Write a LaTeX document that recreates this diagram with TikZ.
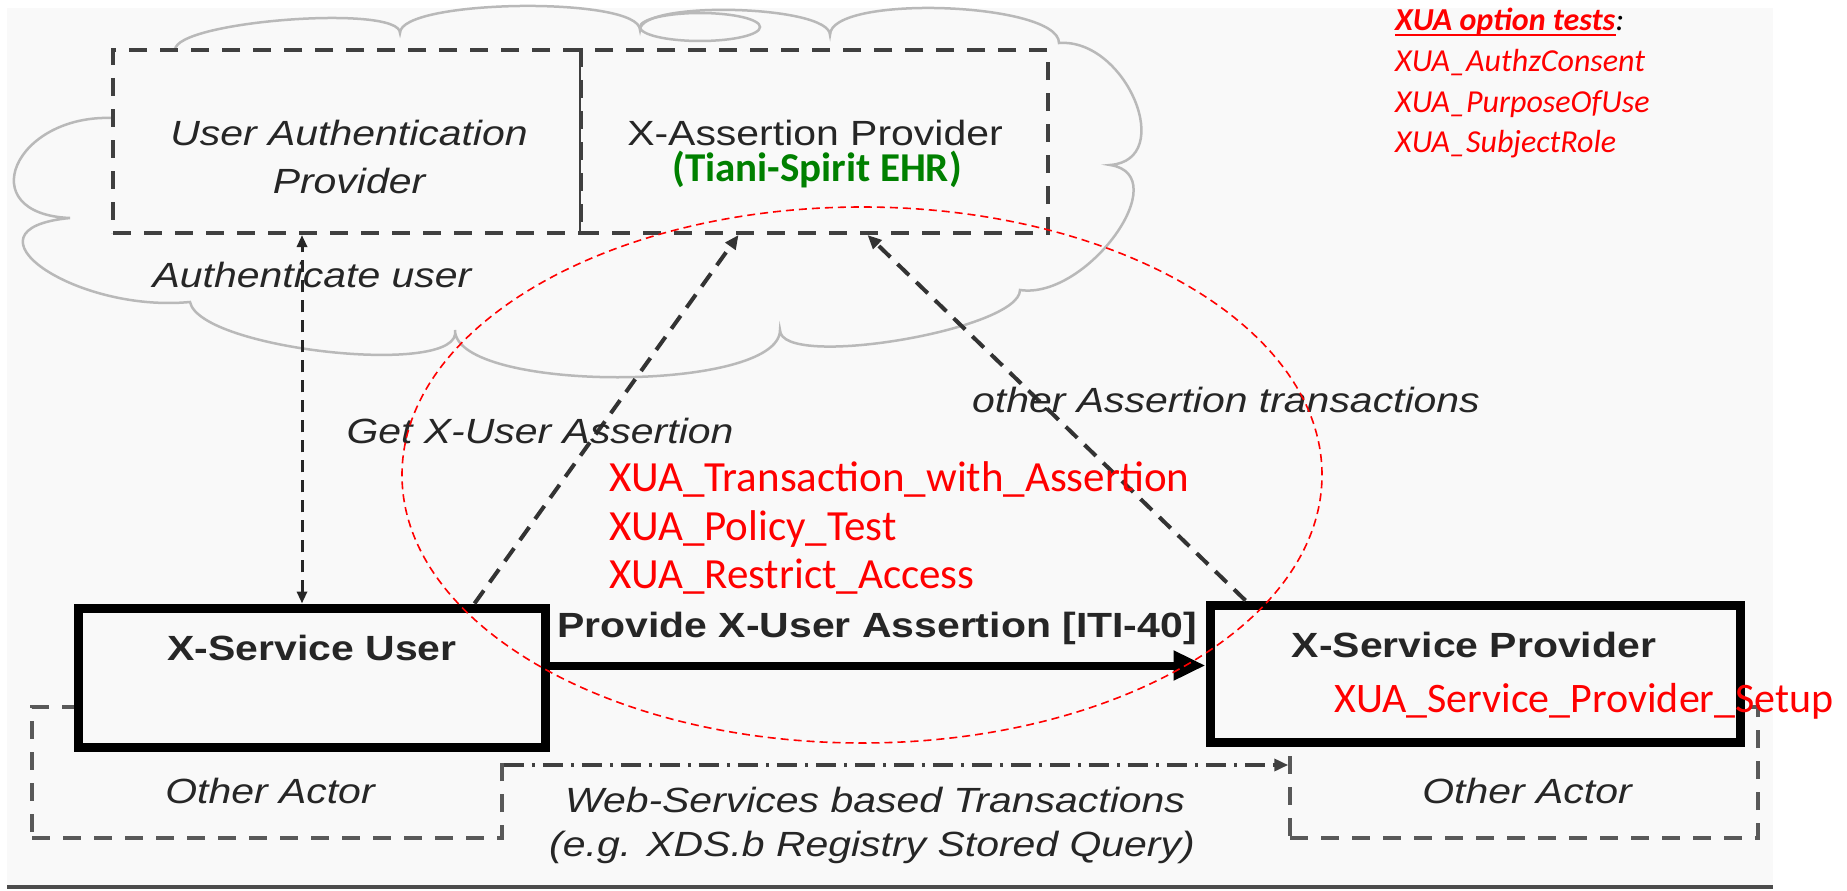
\documentclass[tikz,border=0pt]{standalone}
\usepackage{fontspec}
\setmainfont{Liberation Sans}[FakeStretch = 1.17]
\newfontfamily\calfont{Carlito}
\usepackage{xcolor}
\usetikzlibrary{shapes.geometric,arrows.meta}

\definecolor{panel}{RGB}{249,249,249}
\definecolor{cloudgray}{RGB}{185,185,185}
\definecolor{inkgray}{RGB}{38,38,38}
\definecolor{ehrgreen}{RGB}{0,128,0}

\begin{document}
\begin{tikzpicture}[x = 1pt, y = -1pt,
  dbox/.style = {draw = black!75, line width = 4pt, dash pattern = on 18pt off 13pt, fill = panel, inner sep = 0pt},
  actor/.style = {draw = black!65, line width = 3.5pt, dash pattern = on 18pt off 13pt, inner sep = 0pt},
  sbox/.style = {draw = black, line width = 9pt, fill = panel, inner sep = 0pt},
  cloud/.style = {draw = cloudgray, line width = 2.5pt},
  txt/.style = {text = inkgray, font = \fontsize{35}{47}\selectfont, inner sep = 0pt, anchor = base},
  itxt/.style = {txt, font = \fontsize{35}{47}\selectfont\itshape},
  btxt/.style = {txt, font = \fontsize{35}{47}\selectfont\bfseries},
  xua/.style = {text = red, font = \calfont\fontsize{43}{45}\selectfont, inner sep = 0pt, anchor = base west},
  opt/.style = {text = red, font = \calfont\fontsize{32}{40}\selectfont\itshape, inner sep = 0pt, anchor = base west},
  dline/.style = {draw = black!80, line width = 4pt, dash pattern = on 16pt off 10pt, -{Triangle[length = 14pt, width = 12pt]}},
  vline/.style = {draw = black!85, line width = 3pt, dash pattern = on 12pt off 8pt, {Triangle[length = 12pt, width = 10pt]}-{Triangle[length = 12pt, width = 10pt]}},
  wsline/.style = {draw = black!75, line width = 3.5pt, dash pattern = on 20pt off 8pt on 3pt off 8pt, -{Triangle[length = 14pt, width = 12pt]}},
  provide/.style = {draw = black, line width = 8pt, -{Triangle[length = 32pt, width = 28pt]}},
  oval/.style = {draw = red, line width = 1.6pt, dash pattern = on 8pt off 5pt, ellipse, inner sep = 0pt}]
\useasboundingbox (0,0) rectangle (1847,891);
\fill[panel] (7,8) rectangle (1773,886);
\draw[line width = 4pt, black!70] (7,887) -- (1773,887);

\draw[cloud] (175,50) .. controls (175,21) and (400,4) .. (400,33)
  .. controls (400,-1) and (640,-4) .. (640,30)
  .. controls (640,0) and (830,5) .. (830,35)
  .. controls (830,-6) and (1059,2) .. (1059,43)
  .. controls (1126,38) and (1177,160) .. (1110,165)
  .. controls (1177,175) and (1087,300) .. (1020,290)
  .. controls (1020,330) and (780,370) .. (780,330)
  .. controls (780,393) and (455,393) .. (455,330)
  .. controls (465,378) and (200,350) .. (190,302)
  .. controls (74,313) and (-46,229) .. (70,218)
  .. controls (-29,214) and (14,114) .. (113,118);
\draw[cloud] (700,27) ellipse [x radius = 60, y radius = 14];

\node[dbox, minimum width = 468pt, minimum height = 183pt] at(347,141.5) (uap) {};
\node[dbox, minimum width = 467pt, minimum height = 183pt] at(814.5,141.5) (xap) {};

\node[actor, minimum width = 470pt, minimum height = 131pt] at(267,772.5) (lother) {};
\node[actor, minimum width = 468pt, minimum height = 131pt] at(1524,772.5) (rother) {};

\node[sbox, minimum width = 467pt, minimum height = 139pt] at(311.5,677.5) (sul) {};
\node[sbox, minimum width = 530pt, minimum height = 137pt] at(1475,673.5) (spr) {};

\draw[vline] ([xshift = -9.5pt]sul.north) -- ([xshift = -9.5pt]uap.south -| sul.north);
\draw[dline] ([xshift = -75pt]sul.north east) -- ([xshift = -76pt]xap.south);
\draw[dline] ([xshift = 40pt]spr.north west) -- ([xshift = 53pt]xap.south);
\draw[provide] ([yshift = 12pt]sul.east) -- ([yshift = 12pt]sul.east -| spr.west);
\draw[wsline] ([yshift = 7.5pt]lother.east) -- ([yshift = 7.5pt]rother.west);

\node[itxt] at(349,145) (uaptext1) {User Authentication};
\node[itxt] at(349,193) (uaptext2) {Provider};
\node[txt] at(815,145) (xaptext) {X-Assertion Provider};
\node[text = ehrgreen, font = \calfont\fontsize{41}{45}\selectfont\bfseries, inner sep = 0pt, anchor = base] at(817,181) (ehr) {(Tiani-Spirit EHR)};

\node[itxt] at(312,287) (authlbl) {Authenticate user};
\node[itxt] at(540,443) (getlbl) {Get X-User Assertion};
\node[itxt] at(1226,412) (otherlbl) {other Assertion transactions};
\node[btxt] at(877,637) (provlbl) {Provide X-User Assertion [ITI-40]};

\node[btxt] at(312,660) (sultext) {X-Service User};
\node[btxt] at(1474,657) (sprtext) {X-Service Provider};
\node[itxt] at(270,803) (lotext) {Other Actor};
\node[itxt] at(1527,803) (rotext) {Other Actor};
\node[itxt] at(875,812) (wslbl1) {Web-Services based Transactions};
\node[itxt] at(872,856) (wslbl2) {(e.g. XDS.b Registry Stored Query)};

\node[oval, minimum width = 920pt, minimum height = 536pt] at(862,475) (xuascope) {};

\node[xua] at(609,491) (xua1) {XUA\_Transaction\_with\_Assertion};
\node[xua] at(609,540) (xua2) {XUA\_Policy\_Test};
\node[xua] at(609,588) (xua3) {XUA\_Restrict\_Access};
\node[xua, font = \calfont\fontsize{42}{45}\selectfont] at(1334,712) (setup) {XUA\_Service\_Provider\_Setup};

\node[opt, font = \calfont\fontsize{32}{40}\selectfont\bfseries\itshape] at(1395,31) (opttitle) {XUA option tests};
\node[opt, text = black] at(opttitle.base east) (optcolon) {:};
\draw[red, line width = 2.5pt] ([yshift = -4pt]opttitle.base west) -- ([yshift = -4pt]opttitle.base east);
\node[opt] at(1395,71) (opt1) {XUA\_AuthzConsent};
\node[opt] at(1395,112) (opt2) {XUA\_PurposeOfUse};
\node[opt] at(1395,152) (opt3) {XUA\_SubjectRole};
\end{tikzpicture}
\end{document}
